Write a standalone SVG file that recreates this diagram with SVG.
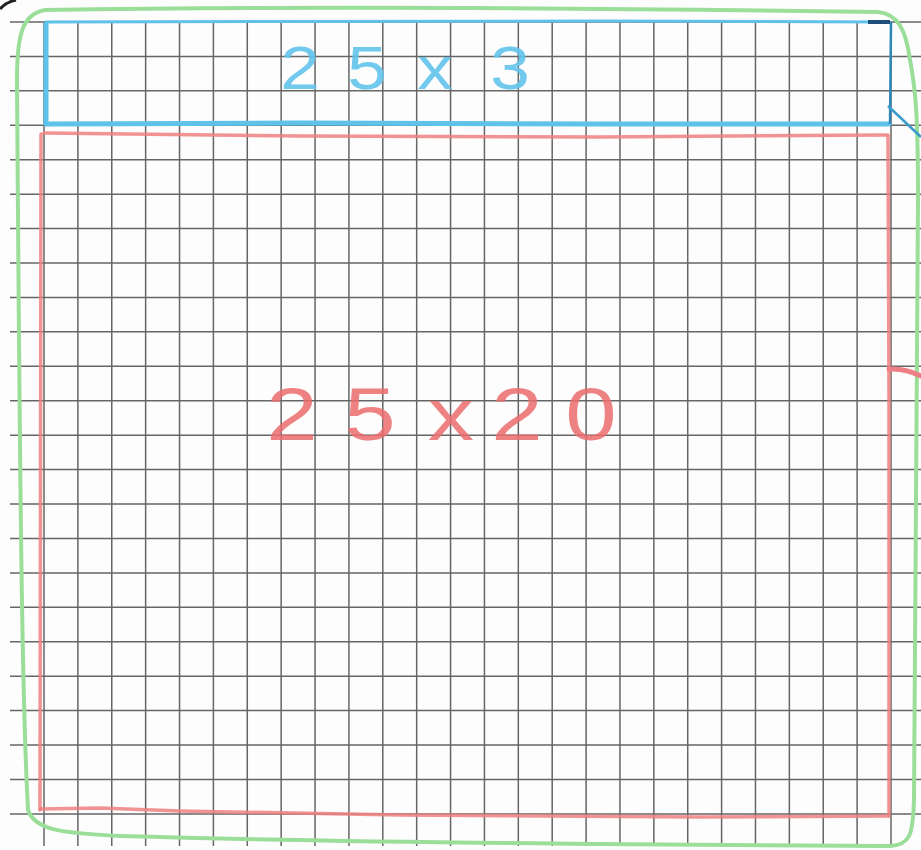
<svg xmlns="http://www.w3.org/2000/svg" width="921" height="850" viewBox="0 0 921 850">
<style>
.grid{fill:none;stroke:#666;stroke-width:1.5}
.blue{fill:none;stroke:#5ec2ea;stroke-linecap:round;stroke-linejoin:round}
.red{fill:none;stroke:#ee8080;stroke-width:3.5;stroke-linecap:round;stroke-linejoin:round;opacity:0.85}
.green{fill:none;stroke:#9ade9a;stroke-width:4;stroke-linecap:round}
.lbl{font-family:"Liberation Sans",Arial,sans-serif;text-anchor:middle}
</style>
<rect width="921" height="850" fill="#fdfdfd"/>
<g id="grid">
<path class="grid" d="M10 22H921M10 56.43H921M10 90.86H921M10 125.29H921M10 159.72H921M10 194.15H921M10 228.58H921M10 263.01H921M10 297.44H921M10 331.87H921M10 366.3H921M10 400.73H921M10 435.16H921M10 469.59H921M10 504.02H921M10 538.45H921M10 572.88H921M10 607.31H921M10 641.74H921M10 676.17H921M10 710.6H921M10 745.03H921M10 779.46H921M10 813.89H921"/>
<path class="grid" d="M44 22V846M77.88 22V846M111.76 22V846M145.64 22V846M179.52 22V846M213.4 22V846M247.28 22V846M281.16 22V846M315.04 22V846M348.92 22V846M382.8 22V846M416.68 22V846M450.56 22V846M484.44 22V846M518.32 22V846M552.2 22V846M586.08 22V846M619.96 22V846M653.84 22V846M687.72 22V846M721.6 22V846M755.48 22V846M789.36 22V846M823.24 22V846M857.12 22V846M891 22V846"/>
</g>
<g id="outer-green">
<path class="green" d="M45 10 C300 6 600 8 878 12 C898 14 906 30 910 60 C916 90 918 120 918 200 C918 400 916 600 914 800 C913 835 910 845 890 846 C700 845 400 844 120 836 C60 833 35 830 28 810 C22 700 20 500 17 80 C17 35 22 14 45 10"/>
</g>
<g id="red-region">
<path class="red" d="M44 133 L300 136 L600 137 L886 135"/>
<path class="red" d="M41 134 L40 810"/>
<path class="red" d="M888 135 L889 400 L889 816"/>
<path class="red" d="M40 809 L100 808 L180 811 L400 815 L700 817 L888 816"/>
<path d="M889 369 Q905 368 921 376" stroke="#ee7f86" stroke-width="5" fill="none" stroke-linecap="round"/>
<text class="lbl" transform="scale(1.25,1)" x="233.6 296 360.8 413.6 472.8" y="440" font-size="74" fill="#ec6d6d" opacity="0.85">25x20</text>
</g>
<g id="blue-region">
<path class="blue" stroke-width="3" d="M46 22 L600 21 L880 22"/>
<path class="blue" stroke-width="5" d="M46 24 L46 124"/>
<path class="blue" stroke-width="5" d="M46 124 L300 123 L600 124 L889 124"/>
<path stroke="#2f86b8" stroke-width="2.5" fill="none" d="M891 22 L890 124"/>
<path stroke="#3a9ccc" stroke-width="2.5" fill="none" d="M888 106 L921 137"/>
<text class="lbl" transform="scale(1.15,1)" x="260.9 319.1 378.3 443.5" y="89" font-size="62" fill="#62c4ec" opacity="0.9">25x3</text>
</g>
<g id="ink-marks">
<path d="M0 9 Q6 2 16 0" stroke="#222" stroke-width="3" fill="none"/>
<path d="M868 22 L890 22" stroke="#1e4f7a" stroke-width="4" fill="none"/>
</g>
</svg>
